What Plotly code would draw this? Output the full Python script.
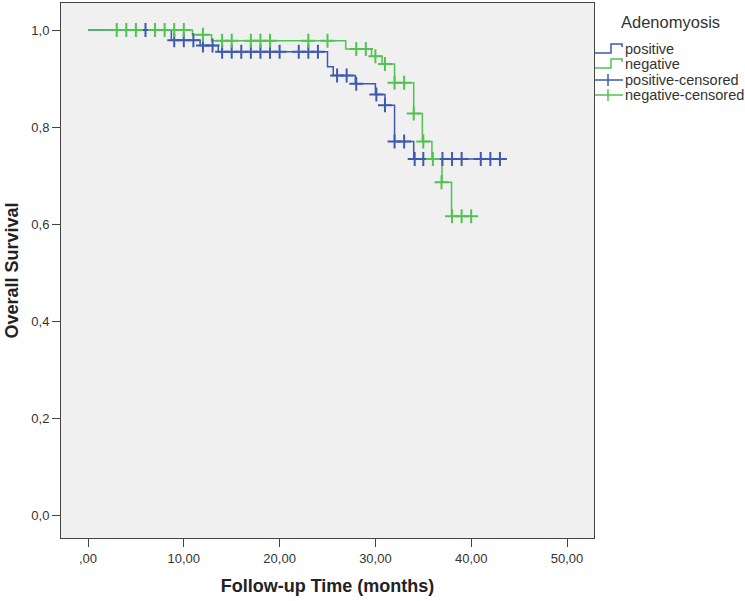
import plotly.graph_objects as go

W, H = 745, 601
L, R, T, B = 61, 594, 3, 538

x_ticks = [0, 10, 20, 30, 40, 50]
x_tick_text = [",00", "10,00", "20,00", "30,00", "40,00", "50,00"]
y_ticks = [0, 0.2, 0.4, 0.6, 0.8, 1.0]
y_tick_text = ["0,0", "0,2", "0,4", "0,6", "0,8", "1,0"]

# Adenomyosis positive (blue)
pos_time = [0, 8.7, 11.7, 13.6, 25.0, 25.6, 27.9, 30.0, 31.0, 32.0, 34.0, 43.0]
pos_surv = [1.0, 0.979, 0.968, 0.955, 0.924, 0.906, 0.889, 0.867, 0.845, 0.770, 0.734, 0.734]
pos_cens_time = [6, 9, 10, 11, 12, 13, 14, 15, 16, 17, 18, 19, 20, 22, 23, 24,
                 26, 27, 28, 30.1, 31, 32, 33, 34.1, 35, 37, 38, 39, 41, 42, 43]
pos_cens_surv = [1.0, 0.979, 0.979, 0.979, 0.968, 0.968, 0.955, 0.955, 0.955, 0.955,
                 0.955, 0.955, 0.955, 0.955, 0.955, 0.955, 0.906, 0.906, 0.889, 0.867,
                 0.845, 0.770, 0.770, 0.734, 0.734, 0.734, 0.734, 0.734, 0.734, 0.734, 0.734]

# Adenomyosis negative (green)
neg_time = [0, 10.9, 12.9, 26.9, 29.6, 30.7, 32.0, 34.0, 34.9, 35.9, 36.95, 37.95, 40.0]
neg_surv = [1.0, 0.990, 0.978, 0.961, 0.946, 0.930, 0.891, 0.828, 0.770, 0.734, 0.686, 0.616, 0.616]
neg_cens_time = [3, 4, 5, 7, 8, 9, 10, 12, 14, 15, 17, 18, 19, 23, 25, 28, 29, 30,
                 31, 32, 33, 34, 35, 36, 36.9, 38, 39, 40]
neg_cens_surv = [1.0, 1.0, 1.0, 1.0, 1.0, 1.0, 1.0, 0.990, 0.978, 0.978, 0.978, 0.978,
                 0.978, 0.978, 0.978, 0.961, 0.961, 0.946, 0.930, 0.891, 0.891, 0.828,
                 0.770, 0.734, 0.686, 0.616, 0.616, 0.616]

BLUE = "#3d5ab0"
GREEN = "#52c252"

fig = go.Figure()
fig.add_trace(go.Scatter(x=pos_time, y=pos_surv, mode="lines", line_shape="hv",
                         line=dict(color=BLUE, width=1.5), name="positive", showlegend=False))
fig.add_trace(go.Scatter(x=neg_time, y=neg_surv, mode="lines", line_shape="hv",
                         line=dict(color=GREEN, width=1.5), name="negative", showlegend=False))
fig.add_trace(go.Scatter(x=pos_cens_time, y=pos_cens_surv, mode="markers",
                         marker=dict(symbol="cross-thin", size=10, line=dict(color=BLUE, width=2)),
                         name="positive-censored", showlegend=False))
fig.add_trace(go.Scatter(x=neg_cens_time, y=neg_cens_surv, mode="markers",
                         marker=dict(symbol="cross-thin", size=10, line=dict(color=GREEN, width=2)),
                         name="negative-censored", showlegend=False))

x_range = [(L - 88) / 9.58, (R - 88) / 9.58]
y_range = [(515 - B) / 485, (515 - T) / 485]

FONT = "Liberation Sans, Arial, sans-serif"

def px(x):
    return (x - L) / (R - L)

def py(y):
    return (B - y) / (B - T)

shapes = []
annotations = []
legend_title = "Adenomyosis"
legend_labels = ["positive", "negative", "positive-censored", "negative-censored"]
legend_colors = [BLUE, GREEN, BLUE, GREEN]
legend_kinds = ["step", "step", "cross", "cross"]
legend_y = [49, 64, 80, 95]

annotations.append(dict(text=legend_title, x=px(670), y=py(22), xref="paper", yref="paper",
                        showarrow=False, xanchor="center", yanchor="middle",
                        font=dict(family=FONT, size=16.5, color="#333333")))
for lab, col, kind, yc in zip(legend_labels, legend_colors, legend_kinds, legend_y):
    if kind == "step":
        path = "M {} {} L {} {} L {} {} L {} {} L {} {}".format(
            px(595), py(yc + 4), px(611), py(yc + 4), px(611), py(yc - 5),
            px(622), py(yc - 5), px(622), py(yc - 2))
        shapes.append(dict(type="path", path=path, xref="paper", yref="paper",
                           line=dict(color=col, width=1.5)))
    else:
        shapes.append(dict(type="line", x0=px(595), x1=px(623), y0=py(yc), y1=py(yc),
                           xref="paper", yref="paper", line=dict(color=col, width=1.5)))
        shapes.append(dict(type="line", x0=px(608), x1=px(608), y0=py(yc - 6), y1=py(yc + 6),
                           xref="paper", yref="paper", line=dict(color=col, width=1.5)))
    annotations.append(dict(text=lab, x=px(623), y=py(yc), xref="paper", yref="paper",
                            showarrow=False, xanchor="left", yanchor="middle",
                            font=dict(family=FONT, size=14.5, color="#333333")))

fig.update_layout(
    width=W, height=H,
    margin=dict(l=L, r=W - R, t=T, b=H - B),
    paper_bgcolor="white",
    plot_bgcolor="#f0f0f0",
    font=dict(family=FONT, size=13, color="#333333"),
    shapes=shapes,
    annotations=annotations,
    showlegend=False,
)
fig.update_xaxes(range=x_range, tickvals=x_ticks, ticktext=x_tick_text,
                 showgrid=False, zeroline=False, showline=True, mirror=True,
                 linecolor="#444444", linewidth=1, ticks="outside", ticklen=8,
                 tickcolor="#444444", tickfont=dict(family=FONT, size=13, color="#333333"),
                 title=dict(text="<b>Follow-up Time (months)</b>", standoff=14,
                            font=dict(family=FONT, size=18, color="#222222")))
fig.update_yaxes(range=y_range, tickvals=y_ticks, ticktext=y_tick_text,
                 showgrid=False, zeroline=False, showline=True, mirror=True,
                 linecolor="#444444", linewidth=1, ticks="outside", ticklen=8,
                 tickcolor="#444444", tickfont=dict(family=FONT, size=13, color="#333333"),
                 title=dict(text="<b>Overall Survival</b>", standoff=8,
                            font=dict(family=FONT, size=18, color="#222222")))

fig.write_html("out.html")
